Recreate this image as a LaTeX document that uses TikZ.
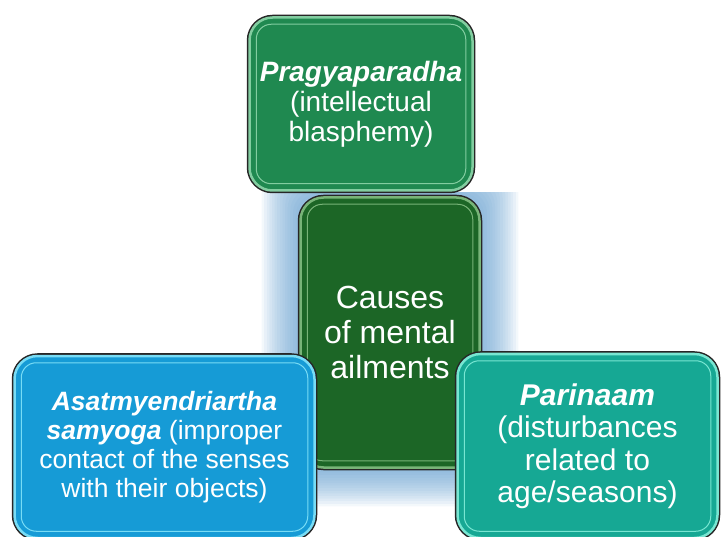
\documentclass[tikz,border=0pt]{standalone}
\usepackage{fontspec}
\setmainfont{Liberation Sans}
\usetikzlibrary{calc}
\definecolor{pragfill}{RGB}{31,137,80}
\definecolor{pragrim}{RGB}{130,205,160}
\definecolor{corefill}{RGB}{28,102,38}
\definecolor{corerim}{RGB}{120,180,120}
\definecolor{asatfill}{RGB}{22,155,214}
\definecolor{asatrim}{RGB}{120,220,245}
\definecolor{parifill}{RGB}{22,168,148}
\definecolor{paririm}{RGB}{120,230,210}
\definecolor{glowblue}{RGB}{95,155,205}

\begin{document}
\begin{tikzpicture}
  [x=1pt,y=1pt,
   cause box/.style={rounded corners=23pt,fill=#1fill,draw=#1rim,line width=2.5pt,
     preaction={draw=black!85,line width=5.5pt},text=white,align=center,inner sep=0pt},
   inner line/.style={draw=#1,line width=1pt,rounded corners=15pt}]

  \useasboundingbox (0,0) rectangle (723,-537);

  % soft glow behind the middle box
  \begin{scope}
    \clip (0,-193) rectangle (723,-537);
    \foreach \k in {1,...,14}
      \fill[glowblue,opacity=0.075,rounded corners=24pt]
        (298-2.6*\k,-195+2.6*\k) rectangle (482+2.6*\k,-470-2.6*\k);
  \end{scope}

  \node [cause box=core, minimum width=179pt, minimum height=270pt,
         font=\fontsize{32}{35}\selectfont] (core) at (390,-332.5)
        {Causes\\of mental\\ailments};
  \draw [inner line=corerim] ($(core.south west)+(8,8)$) rectangle ($(core.north east)-(8,8)$);

  \node [cause box=prag, minimum width=223pt, minimum height=173pt,
         font=\fontsize{28}{30}\selectfont] (prag) at (361,-104)
        {\textbf{\textit{Pragyaparadha}}\\(intellectual\\blasphemy)};
  \draw [inner line=pragrim] ($(prag.south west)+(8,8)$) rectangle ($(prag.north east)-(8,8)$);

  \node [cause box=asat, minimum width=300pt, minimum height=182pt,
         font=\fontsize{26.5}{29}\selectfont] (asat) at (164.5,-447)
        {\textbf{\textit{Asatmyendriartha}}\\\textbf{\textit{samyoga}} (improper\\contact of the senses\\with their objects)};
  \draw [inner line=asatrim] ($(asat.south west)+(8,8)$) rectangle ($(asat.north east)-(8,8)$);

  \node [cause box=pari, minimum width=260pt, minimum height=184pt,
         font=\fontsize{30}{32.5}\selectfont] (pari) at (587.5,-446)
        {\textbf{\textit{Parinaam}}\\(disturbances\\related to\\age/seasons)};
  \draw [inner line=paririm] ($(pari.south west)+(8,8)$) rectangle ($(pari.north east)-(8,8)$);

\end{tikzpicture}
\end{document}
